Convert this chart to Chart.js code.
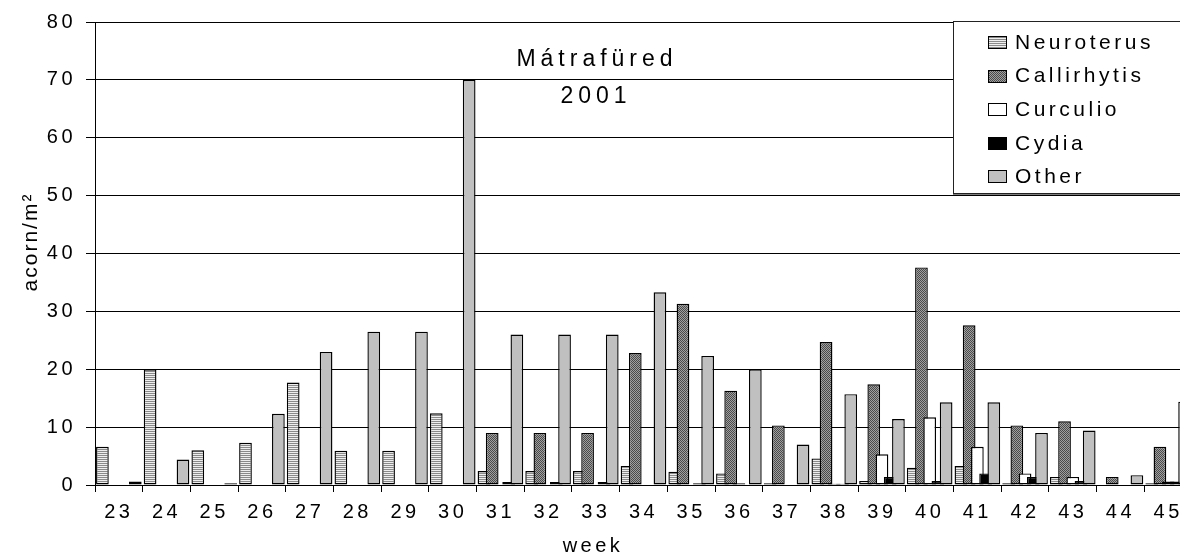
<!DOCTYPE html>
<html>
<head>
<meta charset="utf-8">
<title>Mátrafüred 2001</title>
<script src="https://cdn.jsdelivr.net/npm/chart.js@4.4.1/dist/chart.umd.min.js"></script>
<style>
  html, body { margin: 0; padding: 0; background: #fff; overflow: hidden; }
  #wrap { width: 1200px; height: 556px; }
</style>
</head>
<body>
<div id="wrap"><canvas id="acorns" width="1200" height="556"></canvas></div>
<script>
// values, acorn/m2 per week
const weeks = ['23','24','25','26','27','28','29','30','31','32','33','34','35','36','37','38','39','40','41','42','43','44','45'];
const neuroterus  = [6.6, 20.0, 6.0, 7.3, 17.7, 5.9, 5.9, 12.4, 2.4, 2.4, 2.4, 3.3, 2.3, 2.0, 0.3, 4.6, 0.7, 3.0, 3.3, 0.3, 1.4, 0, 0.3];
const callirhytis = [0, 0, 0, 0, 0, 0, 0, 0, 9.0, 9.0, 9.0, 22.8, 31.3, 16.3, 10.3, 24.7, 17.4, 37.6, 27.6, 10.3, 11.0, 1.4, 6.6];
const curculio    = [0, 0, 0, 0, 0, 0, 0, 0, 0, 0, 0, 0, 0, 0.3, 0, 0.2, 5.3, 11.7, 6.6, 2.0, 1.4, 0, 0.6];
const cydia       = [0, 0, 0, 0, 0, 0, 0, 0, 0.5, 0.5, 0.5, 0, 0.3, 0, 0, 0.2, 1.4, 0.7, 2.0, 1.4, 0.7, 0, 0.6];
const other       = [0.6, 4.4, 0.3, 12.3, 23.0, 26.5, 26.5, 70.0, 26.0, 26.0, 26.0, 33.3, 22.3, 20.0, 7.0, 15.7, 11.4, 14.3, 14.3, 9.0, 9.4, 1.7, 14.4];
const seriesNames = ['Neuroterus', 'Callirhytis', 'Curculio', 'Cydia', 'Other'];
const titleLines = ['Mátrafüred', '2001'];
const xTitle = 'week';
const yTitle = 'acorn/m²';

const font = 'Arial, "Liberation Sans", sans-serif';
const canvas = document.getElementById('acorns');
const ctx = canvas.getContext('2d');

// small tiles for the excel-ish fills
function makePattern(w, h, paint) {
  const c = document.createElement('canvas');
  c.width = w; c.height = h;
  paint(c.getContext('2d'));
  return ctx.createPattern(c, 'repeat');
}
const stripes = makePattern(1, 2, g => {
  g.fillStyle = '#eeeeee'; g.fillRect(0, 0, 1, 1);
  g.fillStyle = '#8a8a8a'; g.fillRect(0, 1, 1, 1);
});
const dots = makePattern(2, 2, g => {
  g.fillStyle = '#a0a0a0'; g.fillRect(0, 0, 2, 2);
  g.fillStyle = '#4a4a4a'; g.fillRect(0, 0, 1, 1); g.fillRect(1, 1, 1, 1);
});
const fills = [stripes, dots, '#ffffff', '#000000', '#c0c0c0'];
const values = [neuroterus, callirhytis, curculio, cydia, other];

// spaced out text like the original
const spacing = {
  id: 'spacing',
  beforeDraw(chart) { chart.ctx.letterSpacing = '3.5px'; }
};

// later series drawn on top (excel overlap)
const drawInOrder = {
  id: 'drawInOrder',
  beforeDatasetsDraw(chart) {
    const a = chart.chartArea;
    const c = chart.ctx;
    c.save();
    c.beginPath();
    c.rect(a.left, a.top, a.right - a.left, a.bottom - a.top);
    c.clip();
    chart.getSortedVisibleDatasetMetas().forEach(m => m.controller.draw());
    c.restore();
    return false;
  }
};

// titles + legend box
const extras = {
  id: 'extras',
  afterDraw(chart) {
    const c = chart.ctx;
    c.save();
    c.fillStyle = '#000';
    c.textBaseline = 'middle';

    // chart title inside plot
    c.textAlign = 'center';
    c.font = '23px ' + font;
    c.letterSpacing = '5px';
    c.fillText(titleLines[0], 597, 60);
    c.fillText(titleLines[1], 596, 97);

    // x title
    c.font = '20px ' + font;
    c.letterSpacing = '3.5px';
    c.fillText(xTitle, 593, 546);

    // y title
    c.save();
    c.translate(31, 243);
    c.rotate(-Math.PI / 2);
    c.font = '21px ' + font;
    c.letterSpacing = '2px';
    c.fillText(yTitle, 1, 0);
    c.restore();

    // legend
    c.fillStyle = '#fff';
    c.fillRect(953.5, 21.5, 260, 172);
    c.strokeStyle = '#808080';
    c.lineWidth = 1;
    c.beginPath();
    c.moveTo(953, 194.5); c.lineTo(1200, 194.5);
    c.stroke();
    c.strokeStyle = '#222';
    c.strokeRect(953.5, 21.5, 260, 172);
    c.font = '21px ' + font;
    c.letterSpacing = '3.5px';
    c.textAlign = 'left';
    seriesNames.forEach((name, i) => {
      const y = 42 + i * 33.6;
      c.fillStyle = fills[i];
      c.fillRect(988.5, Math.round(y - 6) + 0.5, 18, 12);
      c.strokeStyle = '#000';
      c.strokeRect(988.5, Math.round(y - 6) + 0.5, 18, 12);
      c.fillStyle = '#000';
      c.fillText(name, 1015, y + 1);
    });
    c.restore();
  }
};

new Chart(ctx, {
  type: 'bar',
  data: {
    labels: weeks,
    datasets: seriesNames.map((name, i) => ({
      label: name,
      data: values[i],
      backgroundColor: fills[i],
      borderColor: '#000',
      borderWidth: 1.4,
      borderSkipped: false,
      categoryPercentage: 0.862,
      barPercentage: 1.545
    }))
  },
  options: {
    responsive: false,
    animation: false,
    layout: { padding: { left: 0, top: 21, right: 8, bottom: 0 } },
    plugins: { legend: { display: false }, tooltip: { enabled: false } },
    scales: {
      x: {
        offset: true,
        grid: { offset: true, drawOnChartArea: false, color: '#000', tickLength: 7 },
        border: { color: '#000' },
        ticks: { autoSkip: false, maxRotation: 0, color: '#000', font: { family: font, size: 20 }, padding: 8 },
        afterFit: s => { s.height = 71; }
      },
      y: {
        min: 0,
        max: 80,
        ticks: { stepSize: 10, color: '#000', font: { family: font, size: 20 }, padding: 10 },
        grid: { color: '#000', tickLength: 9 },
        border: { color: '#000' },
        afterFit: s => { s.width = 95; }
      }
    }
  },
  plugins: [spacing, drawInOrder, extras]
});
</script>
</body>
</html>
